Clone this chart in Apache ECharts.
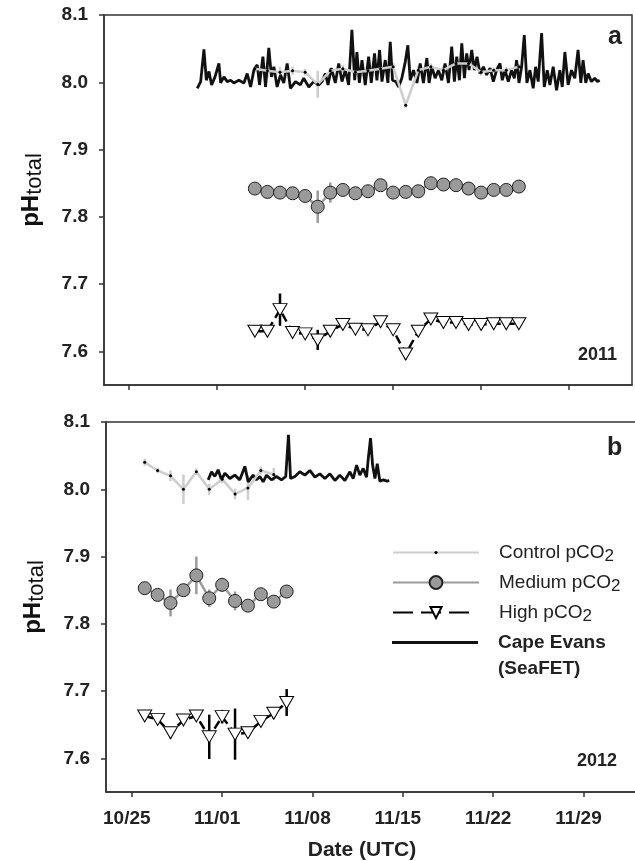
<!DOCTYPE html>
<html>
<head>
<meta charset="utf-8">
<script src="https://cdn.jsdelivr.net/npm/echarts@6/dist/echarts.min.js"></script>
<style>html,body{margin:0;padding:0;background:#fff;overflow:hidden;}#main{width:635px;height:861px;}</style>
</head>
<body>
<div id="main"></div>
<script>
// x values are days after 25 October of each year (10/25 = 0)
const xTickDays = [0, 7, 14, 21, 28, 35];
const xTickLabels = ['10/25', '11/01', '11/08', '11/15', '11/22', '11/29'];
const yTickValues = [7.6, 7.7, 7.8, 7.9, 8.0, 8.1];
const legendNames = ['Control pCO2', 'Medium pCO2', 'High pCO2', 'Cape Evans (SeaFET)'];

// ---- 2011 (panel a) ----
const daysA = [10, 11, 12, 13, 14, 15, 16, 17, 18, 19, 20, 21, 22, 23, 24, 25, 26, 27, 28, 29, 30, 31];
const controlA = [8.020, 8.017, 8.015, 8.017, 8.015, 7.997, 8.017, 8.020, 8.015, 8.017, 8.020, 8.023, 7.966, 8.018, 8.023, 8.018, 8.028, 8.028, 8.015, 8.018, 8.018, 8.023];
const controlAErr = [0.005, 0.010, 0.008, 0.006, 0.005, 0.020, 0.005, 0.006, 0.005, 0.005, 0.008, 0.006, 0.004, 0.006, 0.005, 0.005, 0.004, 0.006, 0.005, 0.004, 0.005, 0.004];
const mediumA = [7.842, 7.837, 7.836, 7.835, 7.831, 7.815, 7.836, 7.840, 7.835, 7.838, 7.847, 7.836, 7.837, 7.838, 7.850, 7.848, 7.847, 7.842, 7.836, 7.840, 7.840, 7.845];
const mediumAErr = [0.004, 0.004, 0.004, 0.004, 0.005, 0.024, 0.015, 0.004, 0.004, 0.004, 0.004, 0.004, 0.004, 0.004, 0.004, 0.004, 0.004, 0.004, 0.004, 0.004, 0.004, 0.004];
const highA = [7.630, 7.630, 7.662, 7.628, 7.626, 7.617, 7.630, 7.640, 7.633, 7.632, 7.644, 7.632, 7.596, 7.630, 7.648, 7.643, 7.643, 7.640, 7.640, 7.641, 7.641, 7.641];
const highAErr = [0.004, 0.004, 0.024, 0.005, 0.004, 0.015, 0.005, 0.006, 0.004, 0.004, 0.004, 0.004, 0.008, 0.005, 0.004, 0.004, 0.004, 0.004, 0.004, 0.004, 0.004, 0.004];
const sensorADays = [5.42, 5.69, 5.95, 6.14, 6.35, 6.56, 6.83, 7.14, 7.28, 7.54, 7.80, 8.07, 8.33, 8.73, 9.13, 9.39, 9.66, 9.92, 10.19, 10.37, 10.64, 10.85, 11.11, 11.32, 11.51, 11.77, 12.04, 12.30, 12.57, 12.83, 13.23, 13.62, 13.89, 14.29, 14.68, 15.08, 15.34, 15.61, 15.82, 16.08, 16.40, 16.67, 16.93, 17.20, 17.46, 17.72, 17.94, 18.12, 18.31, 18.52, 18.78, 19.05, 19.26, 19.52, 19.71, 19.92, 20.11, 20.37, 20.58, 20.77, 20.95, 21.22, 21.43, 21.69, 21.96,
  22.17, 22.36, 22.62, 22.89, 23.15, 23.41, 23.68, 23.86, 24.08, 24.34, 24.60, 24.87, 25.13, 25.40, 25.66, 25.87, 26.06, 26.27, 26.46, 26.67, 26.85, 27.04, 27.25, 27.46, 27.67, 27.91, 28.18, 28.44, 28.71, 28.97, 29.23, 29.50, 29.68, 29.90, 30.16, 30.42, 30.64, 30.82, 31.01, 31.22, 31.43, 31.64, 31.88, 32.14, 32.33, 32.54, 32.81, 33.02, 33.26, 33.47, 33.73, 34.00, 34.26, 34.45, 34.66, 34.92, 35.19, 35.45, 35.71, 35.93, 36.11, 36.32, 36.51, 36.77, 37.04, 37.25, 37.43];
const sensorA = [7.991, 8.001, 8.049, 8.003, 8.016, 7.996, 8.008, 8.028, 7.999, 8.008, 8.001, 8.003, 7.999, 8.003, 7.999, 8.013, 7.993, 8.018, 8.026, 7.996, 8.038, 7.993, 8.051, 8.008, 8.023, 7.993, 8.011, 7.999, 8.028, 7.991, 8.001, 7.996, 8.006, 7.993, 8.001, 7.996, 8.001, 8.013, 7.996, 8.021, 7.999, 8.028, 8.001, 8.018, 7.996, 8.078, 8.003, 8.045, 7.999, 8.033, 7.996, 8.038, 7.999, 8.043, 8.003, 8.048, 8.001, 8.033, 7.999, 8.060, 8.003, 8.001, 7.993, 8.006, 8.030,
  8.055, 8.003, 8.018, 7.999, 8.028, 7.999, 8.036, 7.999, 8.023, 8.006, 8.018, 8.003, 8.028, 7.999, 8.053, 8.001, 8.038, 8.003, 8.058, 8.006, 8.043, 8.018, 8.048, 8.018, 8.038, 8.013, 8.023, 8.011, 8.021, 8.001, 8.018, 8.028, 8.003, 8.018, 8.001, 8.018, 8.006, 8.033, 7.999, 8.023, 8.070, 7.999, 8.018, 7.991, 8.023, 8.001, 8.073, 7.993, 8.018, 7.996, 8.023, 7.988, 8.018, 7.993, 8.045, 7.996, 8.018, 8.006, 8.048, 7.999, 8.033, 7.999, 8.013, 8.001, 8.006, 8.001, 8.003];

// ---- 2012 (panel b) ----
const daysBControl = [1, 2, 3, 4, 5, 6, 7, 8, 9, 10, 11];
const controlB = [8.040, 8.028, 8.020, 8.000, 8.026, 8.000, 8.015, 7.993, 8.002, 8.028, 8.022];
const controlBErr = [0.005, 0.004, 0.008, 0.022, 0.005, 0.008, 0.006, 0.008, 0.018, 0.006, 0.010];
const daysB = [1, 2, 3, 4, 5, 6, 7, 8, 9, 10, 11, 12];
const mediumB = [7.853, 7.843, 7.831, 7.850, 7.872, 7.838, 7.858, 7.834, 7.827, 7.844, 7.833, 7.848];
const mediumBErr = [0.004, 0.004, 0.020, 0.004, 0.028, 0.013, 0.010, 0.014, 0.008, 0.004, 0.004, 0.010];
const highB = [7.663, 7.658, 7.638, 7.657, 7.663, 7.632, 7.662, 7.636, 7.638, 7.655, 7.667, 7.683];
const highBErr = [0.004, 0.004, 0.008, 0.005, 0.004, 0.033, 0.010, 0.038, 0.006, 0.006, 0.008, 0.020];
const sensorBDays = [5.92, 6.18, 6.43, 6.69, 6.95, 7.21, 7.60, 7.98, 8.37, 8.76, 9.02, 9.40, 9.66, 9.92, 10.18, 10.44, 10.82, 11.21, 11.60, 11.93, 12.14, 12.30, 12.64,
  13.02, 13.41, 13.80, 14.19, 14.57, 14.96, 15.35, 15.74, 16.12, 16.51, 16.90, 17.16, 17.42, 17.67, 17.93, 18.19, 18.32, 18.50, 18.66, 18.84, 19.02, 19.22, 19.48, 19.79, 19.95];
const sensorB = [8.014, 8.026, 8.019, 8.029, 8.014, 8.024, 8.016, 8.021, 8.014, 8.034, 8.011, 8.021, 8.014, 8.019, 8.011, 8.021, 8.014, 8.019, 8.014, 8.019, 8.081, 8.016, 8.019,
  8.026, 8.021, 8.028, 8.018, 8.023, 8.016, 8.023, 8.013, 8.021, 8.013, 8.026, 8.016, 8.036, 8.021, 8.031, 8.018, 8.045, 8.076, 8.036, 8.016, 8.038, 8.012, 8.014, 8.012, 8.013];

const FONT = 'Liberation Sans';
const zip = (xs, ys) => xs.map((x, i) => [x, ys[i]]);

function errSeries(idx, days, vals, errs, color, width, z) {
  return {
    type: 'custom', xAxisIndex: idx, yAxisIndex: idx, z: z, silent: true,
    data: days.map((d, i) => [d, vals[i] - errs[i], vals[i] + errs[i]]),
    encode: { x: 0, y: [1, 2] },
    renderItem: function (params, api) {
      const p1 = api.coord([api.value(0), api.value(1)]);
      const p2 = api.coord([api.value(0), api.value(2)]);
      return { type: 'line', shape: { x1: p1[0], y1: p1[1], x2: p2[0], y2: p2[1] },
        style: { stroke: color, lineWidth: width } };
    }
  };
}

function controlSeries(idx, days, vals) {
  return { name: legendNames[0], type: 'line', xAxisIndex: idx, yAxisIndex: idx, z: 4,
    data: zip(days, vals), symbol: 'circle', symbolSize: 3, showSymbol: true,
    itemStyle: { color: '#000' }, lineStyle: { color: '#cdcdcd', width: 2.5 } };
}
function mediumSeries(idx, days, vals) {
  return { name: legendNames[1], type: 'line', xAxisIndex: idx, yAxisIndex: idx, z: 6,
    data: zip(days, vals), symbol: 'circle', symbolSize: 13,
    itemStyle: { color: '#9a9a9a', borderColor: '#222', borderWidth: 1 },
    lineStyle: { color: '#9a9a9a', width: 2.5 } };
}
function highSeries(idx, days, vals) {
  return { name: legendNames[2], type: 'line', xAxisIndex: idx, yAxisIndex: idx, z: 6,
    data: zip(days, vals), symbol: 'triangle', symbolRotate: 180, symbolSize: [14, 12],
    itemStyle: { color: '#fff', borderColor: '#000', borderWidth: 1 },
    lineStyle: { color: '#000', width: 2.5, type: [9, 5] } };
}
function sensorSeries(idx, days, vals) {
  return { name: legendNames[3], type: 'line', xAxisIndex: idx, yAxisIndex: idx, z: 3,
    data: zip(days, vals), symbol: 'none', showSymbol: false,
    itemStyle: { color: '#111' }, lineStyle: { color: '#111', width: 2.8 } };
}

function xAxisDef(idx, showLabels) {
  return {
    type: 'value', gridIndex: idx, min: -2, max: 40,
    axisLine: { show: true, onZero: false, lineStyle: { color: '#333', width: 1.5 } },
    axisTick: { show: true, customValues: xTickDays, length: 5, lineStyle: { color: '#333', width: 1.5 } },
    axisLabel: { show: showLabels, customValues: xTickDays, margin: 17, padding: [0, 10, 0, 0],
      fontFamily: FONT, fontWeight: 'bold', fontSize: 19, color: '#222',
      formatter: v => xTickLabels[xTickDays.indexOf(Math.round(v))] },
    splitLine: { show: false }
  };
}
function yAxisDef(idx) {
  return {
    type: 'value', gridIndex: idx, min: 7.55, max: 8.1,
    axisLine: { show: true, onZero: false, lineStyle: { color: '#333', width: 1.5 } },
    axisTick: { show: true, customValues: yTickValues, length: 5, lineStyle: { color: '#333', width: 1.5 } },
    axisLabel: { customValues: yTickValues, margin: 16, fontFamily: FONT, fontWeight: 'bold', fontSize: 19, color: '#222',
      formatter: v => v.toFixed(1) },
    splitLine: { show: false },
    name: '{p|pH}{s|total}', nameLocation: 'middle', nameRotate: 90, nameGap: 58,
    nameTextStyle: { rich: {
      p: { fontFamily: FONT, fontWeight: 'bold', fontSize: 24, color: '#111', lineHeight: 30, padding: [0, 0, 0, 20] },
      s: { fontFamily: FONT, fontSize: 22, color: '#111', lineHeight: 18, verticalAlign: 'bottom' } } }
  };
}

const legendRich = {
  n: { fontFamily: FONT, fontSize: 19, color: '#222', lineHeight: 24 },
  s: { fontFamily: FONT, fontSize: 17, color: '#222', lineHeight: 15, verticalAlign: 'bottom' },
  b: { fontFamily: FONT, fontSize: 19, fontWeight: 'bold', color: '#222', lineHeight: 26 }
};
function legendFormat(name) {
  if (name === legendNames[3]) return '{b|Cape Evans}\n{b|(SeaFET)}';
  return '{n|' + name.replace('pCO2', 'pCO') + '}{s|2}';
}
function legendDef(name, top, itemHeight, extra) {
  return Object.assign({
    data: [name], orient: 'vertical', left: 392, top: top, padding: 0,
    itemWidth: 86, itemHeight: itemHeight, selectedMode: false,
    formatter: legendFormat,
    textStyle: { rich: legendRich, padding: [0, 0, 0, 15] }
  }, extra || {});
}

const option = {
  animation: false,
  backgroundColor: '#fff',
  grid: [
    { left: 104, top: 15, width: 528, height: 370, outerBoundsMode: 'none', show: true, borderColor: '#333', borderWidth: 1.5, backgroundColor: 'transparent' },
    { left: 106, top: 422, width: 542, height: 370, outerBoundsMode: 'none', show: true, borderColor: '#333', borderWidth: 1.5, backgroundColor: 'transparent' }
  ],
  xAxis: [xAxisDef(0, false), xAxisDef(1, true)],
  yAxis: [yAxisDef(0), yAxisDef(1)],
  legend: [
    legendDef(legendNames[0], 543, 4),
    legendDef(legendNames[1], 573, 16),
    legendDef(legendNames[2], 603, 14, { lineStyle: { type: [20, 8, 20, 8, 20, 60] } }),
    Object.assign(legendDef(legendNames[3], 633, 3), {
      data: [{ name: legendNames[3], icon: 'rect' }],
      textStyle: { rich: legendRich, padding: [26, 0, 0, 15] } })
  ],
  graphic: [
    { type: 'text', x: 608, y: 25, style: { text: 'a', fontFamily: FONT, fontWeight: 'bold', fontSize: 25, fill: '#222' } },
    { type: 'text', x: 617, y: 355, style: { text: '2011', align: 'right', verticalAlign: 'middle', fontFamily: FONT, fontWeight: 'bold', fontSize: 18, fill: '#222' } },
    { type: 'text', x: 607, y: 436, style: { text: 'b', fontFamily: FONT, fontWeight: 'bold', fontSize: 25, fill: '#222' } },
    { type: 'text', x: 617, y: 761, style: { text: '2012', align: 'right', verticalAlign: 'middle', fontFamily: FONT, fontWeight: 'bold', fontSize: 18, fill: '#222' } },
    { type: 'text', x: 362, y: 850, style: { text: 'Date (UTC)', align: 'center', verticalAlign: 'middle', fontFamily: FONT, fontWeight: 'bold', fontSize: 21, fill: '#222' } }
  ],
  series: [
    sensorSeries(0, sensorADays, sensorA),
    errSeries(0, daysA, controlA, controlAErr, '#cdcdcd', 2.5, 3),
    controlSeries(0, daysA, controlA),
    errSeries(0, daysA, mediumA, mediumAErr, '#9a9a9a', 2.5, 5),
    mediumSeries(0, daysA, mediumA),
    errSeries(0, daysA, highA, highAErr, '#000', 2.5, 5),
    highSeries(0, daysA, highA),
    sensorSeries(1, sensorBDays, sensorB),
    errSeries(1, daysBControl, controlB, controlBErr, '#cdcdcd', 2.5, 3),
    controlSeries(1, daysBControl, controlB),
    errSeries(1, daysB, mediumB, mediumBErr, '#9a9a9a', 2.5, 5),
    mediumSeries(1, daysB, mediumB),
    errSeries(1, daysB, highB, highBErr, '#000', 2.5, 5),
    highSeries(1, daysB, highB)
  ]
};
const chart = echarts.init(document.getElementById('main'), null, { renderer: 'canvas' });
chart.setOption(option);
</script>
</body>
</html>
